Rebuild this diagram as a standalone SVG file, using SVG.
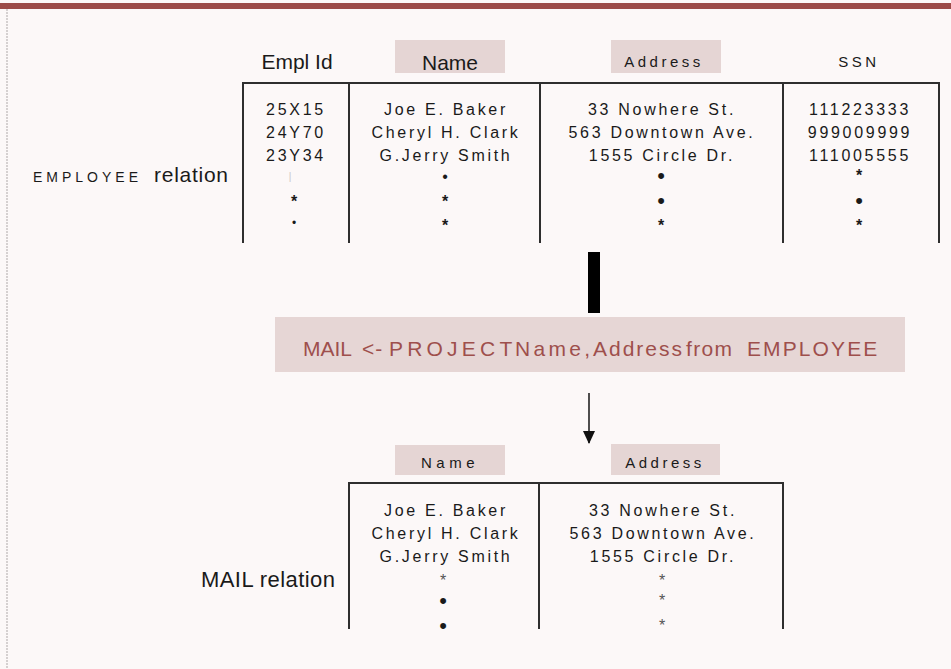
<svg xmlns="http://www.w3.org/2000/svg" width="951" height="669" viewBox="0 0 951 669">
<style>
  text { font-family: "Liberation Sans", Arial, sans-serif; fill: #1a1a1a; }
  .hdr { font-size: 21px; text-anchor: middle; }
  .hdrs { font-size: 15px; letter-spacing: 3.5px; text-anchor: middle; }
  .cell { font-size: 16px; letter-spacing: 2.7px; text-anchor: middle; }
  .star { font-size: 16px; text-anchor: middle; font-weight: bold; }
  .star2 { font-size: 16px; text-anchor: middle; fill: #555; }
  .dot-s { font-size: 12px; text-anchor: middle; }
  .dot-m { font-size: 16px; text-anchor: middle; }
  .dot-l { font-size: 22px; text-anchor: middle; }
  .tick { font-size: 10px; text-anchor: middle; fill: #c8c8c8; }
  .lbl { font-size: 22px; }
  .hbox { fill: #e5d5d4; }
  .grid { stroke: #2e2e2e; stroke-width: 2; fill: none; }
  .op { font-size: 21px; fill: #9e4f4c; }
  .conn { stroke: #222; stroke-width: 1.6; fill: none; }
</style>
<defs>
  <marker id="ah" markerWidth="14" markerHeight="12" refX="12" refY="6" orient="auto" markerUnits="userSpaceOnUse">
    <path d="M0,0 L13,6 L0,12 Z" fill="#111"/>
  </marker>
</defs>
<rect x="0" y="0" width="951" height="669" fill="#fcf8f8"/>
<rect x="0" y="3" width="951" height="6" fill="#9c4b48"/>
<line x1="7" y1="9" x2="7" y2="669" stroke="#c8c2c2" stroke-width="1.5" stroke-dasharray="2,1"/>

<g id="employee-relation">
  <rect class="hbox" x="395" y="40" width="110" height="33"/>
  <rect class="hbox" x="611" y="40" width="110" height="33"/>
  <text class="hdr" x="297" y="69">Empl Id</text>
  <text class="hdr" x="450" y="70">Name</text>
  <text class="hdrs" x="664" y="67">Address</text>
  <text class="hdrs" x="859" y="67">SSN</text>
  <path class="grid" d="M243,243 V83 H939 V243 M349,83 V243 M540,83 V243 M783,83 V243"/>
  <text style="font-size:14px;letter-spacing:4px" x="33" y="182">EMPLOYEE</text>
  <text class="lbl" x="154" y="182" textLength="74" style="font-size:21px">relation</text>

  <text class="cell" x="296" y="115">25X15</text>
  <text class="cell" x="296" y="138">24Y70</text>
  <text class="cell" x="296" y="161">23Y34</text>
  <text class="tick" x="290" y="180">|</text>
  <text class="star" x="294" y="207">*</text>
  <text class="dot-s" x="294" y="227">•</text>

  <text class="cell" x="446" y="115">Joe E. Baker</text>
  <text class="cell" x="446" y="138">Cheryl H. Clark</text>
  <text class="cell" x="446" y="161">G.Jerry  Smith</text>
  <text class="dot-m" x="445" y="182">•</text>
  <text class="star" x="445" y="207">*</text>
  <text class="star" x="445" y="231">*</text>

  <text class="cell" x="662" y="115">33 Nowhere St.</text>
  <text class="cell" x="662" y="138">563 Downtown Ave.</text>
  <text class="cell" x="662" y="161">1555 Circle Dr.</text>
  <text class="dot-l" x="661" y="183">•</text>
  <text class="dot-l" x="661" y="208">•</text>
  <text class="star" x="661" y="231">*</text>

  <text class="cell" x="860" y="115">111223333</text>
  <text class="cell" x="860" y="138">999009999</text>
  <text class="cell" x="860" y="161">111005555</text>
  <text class="star" x="859" y="181">*</text>
  <text class="dot-l" x="859" y="208">•</text>
  <text class="star" x="859" y="231">*</text>
</g>

<g id="project-operation">
  <rect x="275" y="317" width="630" height="55" fill="#e6d6d5"/>
  <text class="op" y="356"><tspan x="303">MAIL</tspan> <tspan x="362" style="letter-spacing:1px">&lt;-</tspan> <tspan x="389" style="letter-spacing:4.2px">PROJECT</tspan> <tspan x="515" style="letter-spacing:3.3px">Name,</tspan> <tspan x="593" style="letter-spacing:2px">Address</tspan> <tspan x="686" style="letter-spacing:1.3px">from</tspan> <tspan x="747" style="letter-spacing:2.1px">EMPLOYEE</tspan></text>
</g>

<g id="connectors">
  <rect x="588" y="252" width="12" height="61" fill="#000"/>
  <line class="conn" x1="589" y1="393" x2="589" y2="443" marker-end="url(#ah)"/>
</g>

<g id="mail-relation">
  <rect class="hbox" x="395" y="445" width="110" height="30"/>
  <rect class="hbox" x="611" y="444" width="109" height="31"/>
  <text class="hdrs" x="450" y="468" style="letter-spacing:4.5px">Name</text>
  <text class="hdrs" x="665" y="468">Address</text>
  <path class="grid" d="M349,629 V483 H783 V629 M539,483 V629"/>
  <text class="lbl" x="201" y="587" textLength="134">MAIL relation</text>

  <text class="cell" x="446" y="516">Joe E. Baker</text>
  <text class="cell" x="446" y="539">Cheryl H. Clark</text>
  <text class="cell" x="446" y="562">G.Jerry  Smith</text>
  <text class="star2" x="443" y="586">*</text>
  <text class="dot-l" x="443" y="608">•</text>
  <text class="dot-l" x="443" y="633">•</text>

  <text class="cell" x="663" y="516">33 Nowhere St.</text>
  <text class="cell" x="663" y="539">563 Downtown Ave.</text>
  <text class="cell" x="663" y="562">1555 Circle Dr.</text>
  <text class="star2" x="662" y="586">*</text>
  <text class="star2" x="662" y="606">*</text>
  <text class="star2" x="662" y="631">*</text>
</g>
</svg>
